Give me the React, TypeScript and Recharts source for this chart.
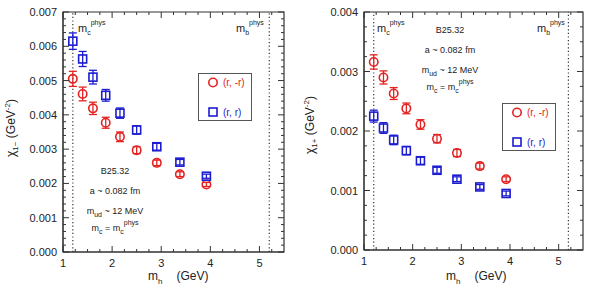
import React from "react";
import {
  ScatterChart,
  Scatter,
  XAxis,
  YAxis,
  ErrorBar,
  ReferenceLine,
  ReferenceArea,
} from "recharts";

// heavy-quark masses (GeV)
const mh = [1.2, 1.4, 1.61, 1.87, 2.16, 2.5, 2.91, 3.38, 3.92];

// chi_{1-} panel
const chiMinusOpp = [0.00505, 0.00461, 0.00419, 0.00377, 0.00336, 0.00297, 0.0026, 0.00227, 0.00197];
const chiMinusOppErr = [0.00022, 0.0002, 0.00018, 0.00016, 0.00014, 0.0001, 0.00008, 0.00007, 0.00006];
const chiMinusSame = [0.00615, 0.00563, 0.0051, 0.00457, 0.00405, 0.00356, 0.00307, 0.00262, 0.00221];
const chiMinusSameErr = [0.00024, 0.00022, 0.0002, 0.00017, 0.00015, 0.00012, 0.0001, 0.00008, 0.00006];

// chi_{1+} panel
const chiPlusOpp = [0.00316, 0.0029, 0.00263, 0.00238, 0.00211, 0.00187, 0.00163, 0.00141, 0.00119];
const chiPlusOppErr = [0.00012, 0.00011, 0.0001, 0.00009, 0.00008, 0.00007, 0.00006, 0.00005, 0.00004];
const chiPlusSame = [0.00225, 0.00205, 0.00185, 0.00167, 0.0015, 0.00134, 0.00119, 0.00106, 0.00095];
const chiPlusSameErr = [0.0001, 0.00009, 0.00008, 0.00007, 0.00006, 0.00005, 0.00004, 0.00004, 0.00004];

const xTicks = [1, 1.25, 1.5, 1.75, 2, 2.25, 2.5, 2.75, 3, 3.25, 3.5, 3.75, 4, 4.25, 4.5, 4.75, 5, 5.25];
const leftYTicks = Array.from({ length: 36 }, (_, i) => i / 5000);
const rightYTicks = Array.from({ length: 17 }, (_, i) => i / 4000);

const RED = "#e52222";
const BLUE = "#1c1cd0";
const AXIS = "#333";
const FONT = "'Liberation Sans', Arial, sans-serif";

const mk = (ys: number[], es: number[]) => mh.map((x, i) => ({ x, y: ys[i], err: es[i] }));

const Circle = (p: any) => (
  <circle cx={p.cx} cy={p.cy} r={4.2} fill="none" stroke={RED} strokeWidth={1.6} />
);
const Square = (p: any) => (
  <rect x={p.cx - 4} y={p.cy - 4} width={8} height={8} fill="none" stroke={BLUE} strokeWidth={1.6} />
);

function makeYTick(plotW: number, majorEvery: number) {
  return (p: any) => {
    const idx = p.index;
    const major = idx % majorEvery === 0;
    const len = major ? 6 : 3;
    return (
      <g>
        <line x1={p.x} x2={p.x + len} y1={p.y} y2={p.y} stroke={AXIS} />
        <line x1={p.x + plotW} x2={p.x + plotW - len} y1={p.y} y2={p.y} stroke={AXIS} />
        {major && (
          <text x={p.x - 6} y={p.y + 4} textAnchor="end" fontSize={11} fill="#222" fontFamily={FONT}>
            {Number(p.payload.value).toFixed(3)}
          </text>
        )}
      </g>
    );
  };
}

function makeXTick(plotH: number) {
  return (p: any) => {
    const v = p.payload.value;
    const major = Number.isInteger(v);
    const len = major ? 6 : 3;
    return (
      <g>
        <line x1={p.x} x2={p.x} y1={p.y} y2={p.y - len} stroke={AXIS} />
        <line x1={p.x} x2={p.x} y1={p.y - plotH} y2={p.y - plotH + len} stroke={AXIS} />
        {major && (
          <text x={p.x} y={p.y + 15} textAnchor="middle" fontSize={11} fill="#222" fontFamily={FONT}>
            {v}
          </text>
        )}
      </g>
    );
  };
}

function LegendBox({ left, top }: { left: number; top: number }) {
  return (
    <g transform={`translate(${left},${top})`} fontFamily={FONT}>
      <rect x={0.5} y={0.5} width={53} height={47} fill="#fff" stroke="#555" />
      <circle cx={15} cy={9.5} r={4.2} fill="none" stroke={RED} strokeWidth={1.6} />
      <text x={25} y={13} fill={RED} fontSize={10}>(r, -r)</text>
      <rect x={11} y={35} width={8} height={8} fill="none" stroke={BLUE} strokeWidth={1.6} />
      <text x={25} y={43} fill={BLUE} fontSize={10}>(r, r)</text>
    </g>
  );
}

interface PanelProps {
  width: number;
  yWidth: number;
  marginRight: number;
  marginBottom: number;
  yMax: number;
  yTicks: number[];
  majorEvery: number;
  opp: { x: number; y: number; err: number }[];
  same: { x: number; y: number; err: number }[];
}

function Panel(props: PanelProps) {
  const height = 295;
  const top = 12;
  const xH = 30;
  const plotW = props.width - props.yWidth - props.marginRight;
  const plotH = height - top - props.marginBottom - xH;
  return (
    <ScatterChart
      width={props.width}
      height={height}
      margin={{ top, right: props.marginRight, bottom: props.marginBottom, left: 0 }}
    >
      <XAxis
        type="number"
        dataKey="x"
        domain={[1, 5.5]}
        ticks={xTicks}
        interval={0}
        height={xH}
        allowDataOverflow
        axisLine={{ stroke: AXIS }}
        tickLine={false}
        tickSize={0}
        tickMargin={0}
        tick={makeXTick(plotH)}
      />
      <YAxis
        type="number"
        dataKey="y"
        domain={[0, props.yMax]}
        ticks={props.yTicks}
        interval={0}
        width={props.yWidth}
        allowDataOverflow
        axisLine={{ stroke: AXIS }}
        tickLine={false}
        tickSize={0}
        tickMargin={0}
        tick={makeYTick(plotW, props.majorEvery)}
      />
      <ReferenceArea x1={1} x2={5.5} y1={0} y2={props.yMax} fill="none" stroke={AXIS} strokeWidth={1.2} />
      <ReferenceLine x={1.2} stroke="#333" strokeDasharray="1.2 2.4" strokeWidth={1.2} />
      <ReferenceLine x={5.2} stroke="#333" strokeDasharray="1.2 2.4" strokeWidth={1.2} />
      <Scatter name="(r, -r)" data={props.opp} shape={Circle} isAnimationActive={false}>
        <ErrorBar dataKey="err" direction="y" width={4} stroke={RED} strokeWidth={1.3} />
      </Scatter>
      <Scatter name="(r, r)" data={props.same} shape={Square} isAnimationActive={false}>
        <ErrorBar dataKey="err" direction="y" width={4} stroke={BLUE} strokeWidth={1.3} />
      </Scatter>
    </ScatterChart>
  );
}

const Sub = ({ children }: { children: React.ReactNode }) => (
  <tspan fontSize={7} dy={3}>{children}</tspan>
);

function MassLabel({ x, y, q }: { x: number; y: number; q: string }) {
  return (
    <text x={x} y={y} fontSize={11} fontFamily={FONT} fill="#222">
      m
      <tspan fontSize={7} dy={3}>{q}</tspan>
      <tspan fontSize={7} dy={-10}>phys</tspan>
    </text>
  );
}

function Info({ cx, y0 }: { cx: number; y0: number }) {
  return (
    <g fontFamily={FONT} fill="#222" textAnchor="middle">
      <text x={cx} y={y0} fontSize={9}>B25.32</text>
      <text x={cx} y={y0 + 20} fontSize={9}>a ~ 0.082 fm</text>
      <text x={cx} y={y0 + 40} fontSize={9}>
        m<Sub>ud</Sub>
        <tspan dy={-3}> ~ 12 MeV</tspan>
      </text>
      <text x={cx} y={y0 + 57} fontSize={9}>
        m<Sub>c</Sub>
        <tspan dy={-3}> = m</tspan>
        <tspan fontSize={7} dy={3}>c</tspan>
        <tspan fontSize={7} dy={-9}>phys</tspan>
      </text>
    </g>
  );
}

function YLabel({ cx, cy, sub }: { cx: number; cy: number; sub: string }) {
  return (
    <text
      transform={`translate(${cx},${cy}) rotate(-90)`}
      textAnchor="middle"
      fontSize={12}
      fontFamily={FONT}
      fill="#222"
    >
      χ
      <tspan fontSize={8} dy={3}>{sub}</tspan>
      <tspan dy={-3}>{"  "}(GeV</tspan>
      <tspan fontSize={8} dy={-5}>-2</tspan>
      <tspan dy={5}>)</tspan>
    </text>
  );
}

function XLabel({ x, y }: { x: number; y: number }) {
  return (
    <text x={x} y={y} fontSize={12} fontFamily={FONT} fill="#222">
      m
      <tspan fontSize={8} dy={4}>h</tspan>
      <tspan dy={-4} dx={14}>(GeV)</tspan>
    </text>
  );
}

export default function App() {
  return (
    <div style={{ position: "absolute", left: 0, top: 0, width: 595, height: 295, background: "#fff" }}>
      <div style={{ position: "absolute", left: 0, top: 0 }}>
        <Panel
          width={297}
          yWidth={63}
          marginRight={13}
          marginBottom={13}
          yMax={0.007}
          yTicks={leftYTicks}
          majorEvery={5}
          opp={mk(chiMinusOpp, chiMinusOppErr)}
          same={mk(chiMinusSame, chiMinusSameErr)}
        />
      </div>
      <div style={{ position: "absolute", left: 297, top: 0 }}>
        <Panel
          width={298}
          yWidth={67}
          marginRight={12}
          marginBottom={15}
          yMax={0.004}
          yTicks={rightYTicks}
          majorEvery={4}
          opp={mk(chiPlusOpp, chiPlusOppErr)}
          same={mk(chiPlusSame, chiPlusSameErr)}
        />
      </div>
      <svg width={595} height={295} style={{ position: "absolute", left: 0, top: 0, pointerEvents: "none" }}>
        <LegendBox left={198} top={73} />
        <LegendBox left={502} top={103} />
        <MassLabel x={78} y={32} q="c" />
        <MassLabel x={236} y={32} q="b" />
        <MassLabel x={377} y={32} q="c" />
        <MassLabel x={537} y={32} q="b" />
        <Info cx={115} y0={174} />
        <Info cx={450} y0={33} />
        <YLabel cx={15} cy={128} sub="1−" />
        <YLabel cx={314} cy={125} sub="1+" />
        <XLabel x={148} y={280} />
        <XLabel x={446} y={280} />
      </svg>
    </div>
  );
}
